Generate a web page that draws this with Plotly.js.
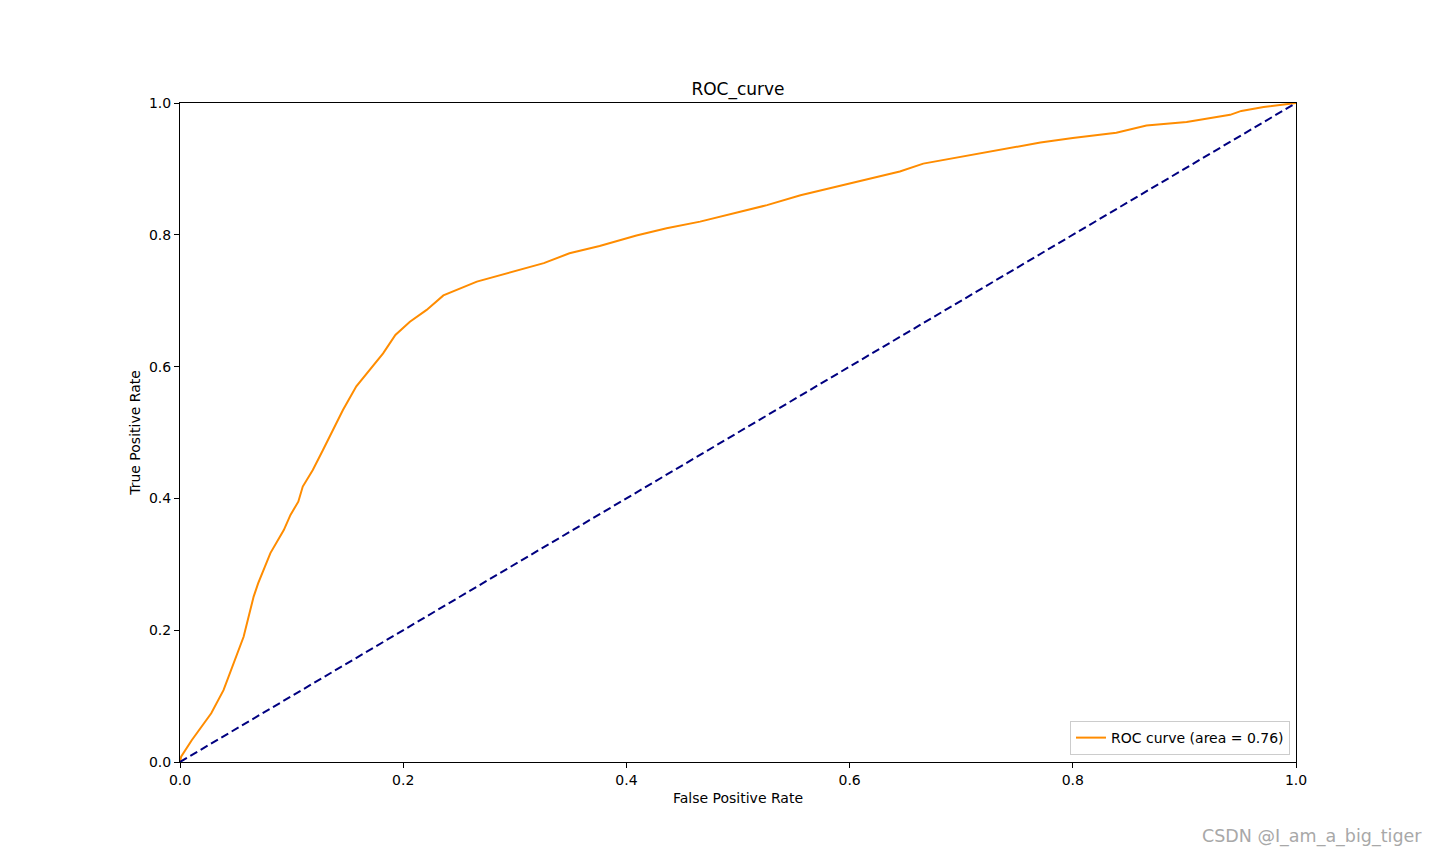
<!DOCTYPE html>
<html>
<head>
<meta charset="utf-8">
<script src="https://cdn.plot.ly/plotly-3.0.1.min.js"></script>
<style>
html,body{margin:0;padding:0;background:#fff;}
#chart{width:1440px;height:856px;}
</style>
</head>
<body>
<div id="chart"></div>
<script>
const fpr = [0.0, 0.001, 0.0105, 0.028, 0.039, 0.048, 0.057, 0.066, 0.070, 0.081, 0.093, 0.099, 0.106, 0.110, 0.119, 0.128, 0.137, 0.146, 0.158, 0.170, 0.182, 0.193, 0.206, 0.221, 0.236, 0.266, 0.299, 0.326, 0.349, 0.376, 0.409, 0.436, 0.466, 0.496, 0.526, 0.556, 0.585, 0.615, 0.645, 0.666, 0.696, 0.735, 0.771, 0.800, 0.839, 0.866, 0.902, 0.941, 0.951, 0.971, 1.0];
const tpr = [0.0, 0.008, 0.033, 0.074, 0.109, 0.150, 0.190, 0.251, 0.271, 0.317, 0.352, 0.375, 0.395, 0.418, 0.443, 0.473, 0.504, 0.534, 0.570, 0.595, 0.620, 0.648, 0.668, 0.686, 0.708, 0.729, 0.744, 0.757, 0.772, 0.783, 0.799, 0.810, 0.820, 0.832, 0.845, 0.860, 0.872, 0.884, 0.896, 0.908, 0.917, 0.929, 0.940, 0.947, 0.955, 0.966, 0.971, 0.982, 0.988, 0.994, 1.0];
const chanceX = [0, 1];
const chanceY = [0, 1];
const rocLabel = 'ROC curve (area = 0.76)';
const tickVals = [0.0, 0.2, 0.4, 0.6, 0.8, 1.0];

const font = "DejaVu Sans, sans-serif";

const traces = [
  {x: fpr, y: tpr, mode: 'lines', name: rocLabel,
   line: {color: '#ff8c00', width: 2}},
  {x: chanceX, y: chanceY, mode: 'lines', showlegend: false,
   line: {color: '#000080', width: 2, dash: '8px,4px'}}
];

const axisCommon = {
  range: [0, 1], tickvals: tickVals, tickformat: '.1f',
  showgrid: false, zeroline: false, showline: true, mirror: true,
  linecolor: '#000', linewidth: 1, ticks: 'outside', ticklen: 5,
  tickcolor: '#000', tickwidth: 1, tickfont: {family: font, size: 14, color: '#000'}
};

const layout = {
  width: 1440, height: 856,
  paper_bgcolor: '#fff', plot_bgcolor: '#fff',
  margin: {l: 180, r: 144, t: 103, b: 94},
  title: {text: 'ROC_curve', font: {family: font, size: 17, color: '#000'},
          xref: 'paper', x: 0.5, xanchor: 'center', y: 1 - 89/856, yanchor: 'middle'},
  xaxis: Object.assign({}, axisCommon, {
    title: {text: 'False Positive Rate', font: {family: font, size: 14, color: '#000'}, standoff: 6}
  }),
  yaxis: Object.assign({}, axisCommon, {
    title: {text: 'True Positive Rate', font: {family: font, size: 14, color: '#000'}, standoff: 5}
  }),
  showlegend: true,
  legend: {x: 0.9946, y: 0.0106, xanchor: 'right', yanchor: 'bottom',
           bgcolor: 'rgba(255,255,255,0.8)', bordercolor: '#cccccc', borderwidth: 1,
           font: {family: font, size: 14, color: '#000'}},
  annotations: [{
    text: 'CSDN @I_am_a_big_tiger', xref: 'paper', yref: 'paper',
    x: 1 + 128/1116, y: -74/659, xanchor: 'right', yanchor: 'middle', showarrow: false,
    font: {family: font, size: 17.5, color: '#a8a8a8'}
  }]
};

Plotly.newPlot('chart', traces, layout, {displayModeBar: false, staticPlot: true});
</script>
</body>
</html>
